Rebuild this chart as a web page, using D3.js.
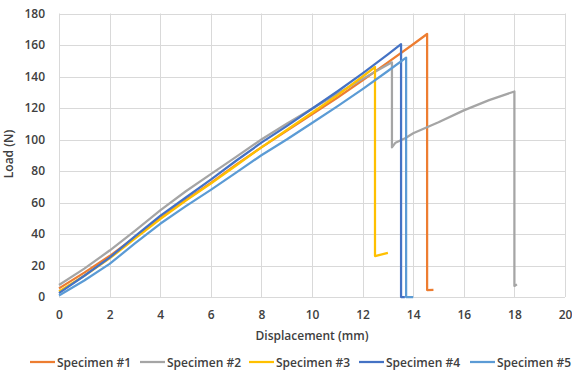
<!DOCTYPE html>
<html>
<head>
<meta charset="utf-8">
<script src="https://cdn.jsdelivr.net/npm/d3@7"></script>
<style>
  html, body { margin: 0; padding: 0; background: #fff; }
  svg { display: block; }
  text { font-family: "Open Sans", "Liberation Sans", sans-serif; font-weight: 600; fill: #404040; }
</style>
</head>
<body>
<svg id="chart" width="572" height="371"></svg>
<script>
// ---- data ----
const seriesNames = ["Specimen #1", "Specimen #2", "Specimen #3", "Specimen #4", "Specimen #5"];
const seriesColors = ["#ED7D31", "#A5A5A5", "#FFC000", "#4472C4", "#5B9BD5"];

const s1x = [0, 1, 2, 3, 4, 5, 6, 7, 8, 9, 10, 11, 12, 13, 14, 14.55, 14.55, 14.8];
const s1y = [5.5, 15.5, 26, 38, 50, 61.5, 72.5, 84, 95, 105.5, 116, 126.5, 137.5, 149, 160.5, 167, 4.4, 4.6];

const s2x = [0, 1, 2, 3, 4, 5, 6, 7, 8, 9, 10, 11, 12, 13.16, 13.16, 13.3, 13.7, 14, 15, 16, 17, 18, 18, 18.1];
const s2y = [7.6, 18, 29.5, 42, 55, 67, 78, 89, 100, 110, 119.5, 129, 138.5, 149, 95, 98, 101, 104, 111, 118.5, 125, 130.5, 7, 8];

const s3x = [0, 1, 2, 3, 4, 5, 6, 7, 8, 9, 10, 11, 12, 12.49, 12.49, 13.0];
const s3y = [3.5, 13.5, 24.5, 37, 49.5, 61, 72, 83.5, 95, 106, 117, 128, 140, 146, 26, 28];

const s4x = [0, 1, 2, 3, 4, 5, 6, 7, 8, 9, 10, 11, 12, 13, 13.52, 13.52, 13.67];
const s4y = [2.5, 13.5, 25, 38.5, 51.5, 63, 74.5, 86.5, 98, 108.5, 119.5, 130.5, 142, 154, 160.5, 0, 0];

const s5x = [0, 1, 2, 3, 4, 5, 6, 7, 8, 9, 10, 11, 12, 13, 13.72, 13.72, 14.0];
const s5y = [1, 10.5, 21, 34, 46.5, 57.5, 68, 79, 90, 100, 110.5, 121, 132, 143.5, 152, 0, 0];

const xTicks = [0, 2, 4, 6, 8, 10, 12, 14, 16, 18, 20];
const yTicks = [0, 20, 40, 60, 80, 100, 120, 140, 160, 180];
const xTitle = "Displacement (mm)";
const yTitle = "Load (N)";

// ---- layout ----
const svg = d3.select("#chart");
const pLeft = 59, pRight = 565, pTop = 13.5, pBottom = 297;
const x = d3.scaleLinear().domain([0, 20]).range([pLeft, pRight]);
const y = d3.scaleLinear().domain([0, 180]).range([pBottom, pTop]);

// gridlines
svg.append("g").selectAll("line").data(xTicks).join("line")
  .attr("x1", d => Math.round(x(d)) + 0.5).attr("x2", d => Math.round(x(d)) + 0.5)
  .attr("y1", pTop).attr("y2", pBottom)
  .attr("stroke", "#d9d9d9").attr("stroke-width", 1);
svg.append("g").selectAll("line").data(yTicks).join("line")
  .attr("y1", d => Math.round(y(d)) + 0.5).attr("y2", d => Math.round(y(d)) + 0.5)
  .attr("x1", pLeft).attr("x2", pRight)
  .attr("stroke", "#d9d9d9").attr("stroke-width", 1);

// axes labels via d3 axes (no domain/tick lines)
const xAxis = svg.append("g").attr("transform", `translate(0,${pBottom})`)
  .call(d3.axisBottom(x).tickValues(xTicks).tickSize(0).tickPadding(13));
xAxis.select(".domain").remove();

const yAxis = svg.append("g").attr("transform", `translate(${pLeft},0)`)
  .call(d3.axisLeft(y).tickValues(yTicks).tickSize(0).tickPadding(14));
yAxis.select(".domain").remove();
svg.selectAll(".tick text").attr("fill", "#404040").attr("font-size", 12).attr("font-family", null);
xAxis.attr("font-family", null).attr("font-size", null);
yAxis.attr("font-family", null).attr("font-size", null);

// titles
svg.append("text").attr("x", (pLeft + pRight) / 2).attr("y", 340)
  .attr("text-anchor", "middle").attr("font-size", 12).text(xTitle);
svg.append("text").attr("transform", `translate(13,154) rotate(-90)`)
  .attr("text-anchor", "middle").attr("font-size", 12).text(yTitle);

// series
const allX = [s1x, s2x, s3x, s4x, s5x];
const allY = [s1y, s2y, s3y, s4y, s5y];
const line = d3.line().x(d => x(d[0])).y(d => y(d[1]));
allX.forEach((xs, i) => {
  const pts = xs.map((v, j) => [v, allY[i][j]]);
  svg.append("path").datum(pts)
    .attr("d", line)
    .attr("fill", "none")
    .attr("stroke", seriesColors[i])
    .attr("stroke-width", 2.25)
    .attr("stroke-linejoin", "round");
});

// legend
const legendStarts = [30, 140, 249, 359, 470];
const lg = svg.append("g");
seriesNames.forEach((n, i) => {
  const lx = legendStarts[i];
  lg.append("line").attr("x1", lx).attr("x2", lx + 25).attr("y1", 362).attr("y2", 362)
    .attr("stroke", seriesColors[i]).attr("stroke-width", 2.25);
  lg.append("text").attr("x", lx + 27).attr("y", 366.5).attr("font-size", 12).text(n);
});
</script>
</body>
</html>
